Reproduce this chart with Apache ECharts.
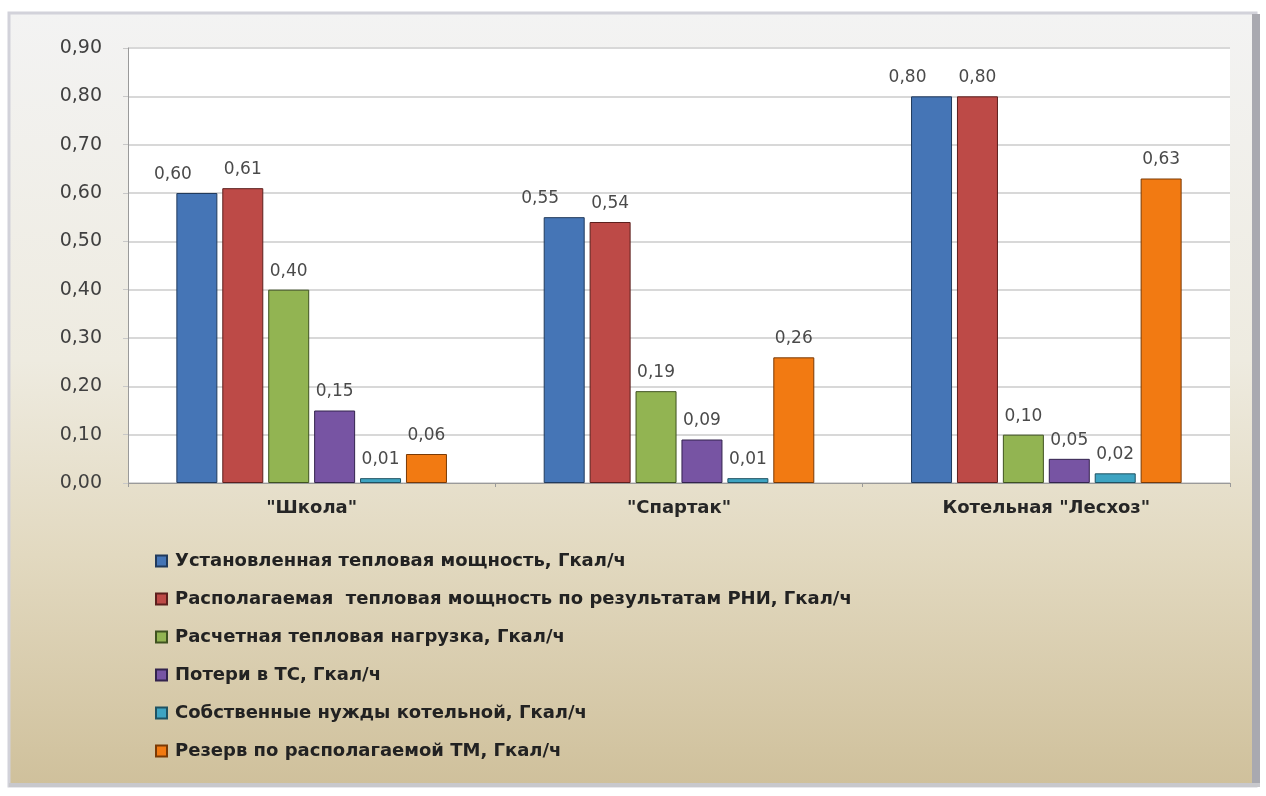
<!DOCTYPE html>
<html>
<head>
<meta charset="utf-8">
<script src="https://cdn.jsdelivr.net/npm/echarts@6/dist/echarts.min.js"></script>
<style>
  html, body { margin: 0; padding: 0; background: #ffffff; }
  #chart { width: 1266px; height: 796px; }
</style>
</head>
<body>
<div id="chart"></div>
<script>
// Heat-source balance per boiler house, Gcal/h
const categories = ['"Школа"', '"Спартак"', 'Котельная "Лесхоз"'];

const seriesNames = [
  'Установленная тепловая мощность, Гкал/ч',
  'Располагаемая  тепловая мощность по результатам РНИ, Гкал/ч',
  'Расчетная тепловая нагрузка, Гкал/ч',
  'Потери в ТС, Гкал/ч',
  'Собственные нужды котельной, Гкал/ч',
  'Резерв по располагаемой ТМ, Гкал/ч'
];

const installed  = [0.60, 0.55, 0.80];
const available  = [0.61, 0.54, 0.80];
const designLoad = [0.40, 0.19, 0.10];
const losses     = [0.15, 0.09, 0.05];
const ownNeeds   = [0.01, 0.01, 0.02];
const reserve    = [0.06, 0.26, 0.63];

const yTicks = { min: 0, max: 0.9, interval: 0.1 };

const seriesValues = [installed, available, designLoad, losses, ownNeeds, reserve];
const colors  = ['#4575b6', '#bd4a47', '#92b452', '#7754a3', '#3ea4c2', '#f27a12'];
const borders = ['#213a5c', '#5c1f1d', '#3f5220', '#33234d', '#1f5262', '#7a3a05'];

const fmt = v => v.toFixed(2).replace('.', ',');

const chart = echarts.init(document.getElementById('chart'), null, { renderer: 'canvas' });

const series = seriesValues.map((vals, i) => ({
  name: seriesNames[i],
  type: 'bar',
  data: vals,
  barWidth: 41,
  barGap: '12%',
  itemStyle: { color: colors[i], borderColor: borders[i], borderWidth: 1 },
  label: {
    show: true,
    position: 'top',
    distance: 10,
    offset: i === 0 ? [-24, 0] : [0, 0],
    formatter: p => fmt(p.value),
    fontFamily: 'DejaVu Sans',
    fontSize: 17,
    color: '#4a4a4a'
  }
}));

chart.setOption({
  animation: false,
  backgroundColor: '#ffffff',
  graphic: [
    {
      type: 'rect',
      z: -100,
      silent: true,
      shape: { x: 9, y: 13, width: 1247, height: 773 },
      style: {
        fill: new echarts.graphic.LinearGradient(0, 0, 0, 1, [
          { offset: 0, color: '#f3f3f3' },
          { offset: 0.45, color: '#eeebe0' },
          { offset: 0.7, color: '#e2d9c0' },
          { offset: 1, color: '#cfc09b' }
        ]),
        stroke: '#d2d2da',
        lineWidth: 3
      }
    },
    {
      type: 'rect',
      z: -99,
      silent: true,
      shape: { x: 1252, y: 14, width: 8, height: 772 },
      style: { fill: '#a9a9b0' }
    },
    {
      type: 'rect',
      z: -99,
      silent: true,
      shape: { x: 9, y: 783, width: 1251, height: 4 },
      style: { fill: '#c8c8cc' }
    }
  ],
  grid: {
    left: 128,
    right: 36,
    top: 48,
    bottom: 313,
    show: true,
    backgroundColor: '#ffffff',
    borderWidth: 0
  },
  legend: {
    orient: 'vertical',
    left: 150,
    top: 546,
    itemWidth: 11,
    itemHeight: 11,
    itemGap: 18,
    icon: 'rect',
    textStyle: {
      fontFamily: 'DejaVu Sans',
      fontWeight: 'bold',
      fontSize: 18,
      lineHeight: 20,
      color: '#222222',
      padding: [0, 0, 0, 3]
    },
    data: seriesNames
  },
  xAxis: {
    type: 'category',
    data: categories,
    axisLine: { lineStyle: { color: '#9a9a9a', width: 1 } },
    axisTick: { show: true, length: 4, lineStyle: { color: '#9a9a9a' } },
    axisLabel: {
      margin: 16,
      fontFamily: 'DejaVu Sans',
      fontWeight: 'bold',
      fontSize: 18,
      color: '#262626'
    }
  },
  yAxis: {
    type: 'value',
    min: yTicks.min,
    max: yTicks.max,
    interval: yTicks.interval,
    axisLine: { show: true, lineStyle: { color: '#9a9a9a', width: 1 } },
    axisTick: { show: true, length: 5, lineStyle: { color: '#c8c8c8' } },
    splitLine: { lineStyle: { color: '#d8d8d8', width: 2 } },
    axisLabel: {
      margin: 26,
      formatter: v => fmt(v),
      fontFamily: 'DejaVu Sans',
      fontSize: 19,
      color: '#404040'
    }
  },
  series: series
});
</script>
</body>
</html>
